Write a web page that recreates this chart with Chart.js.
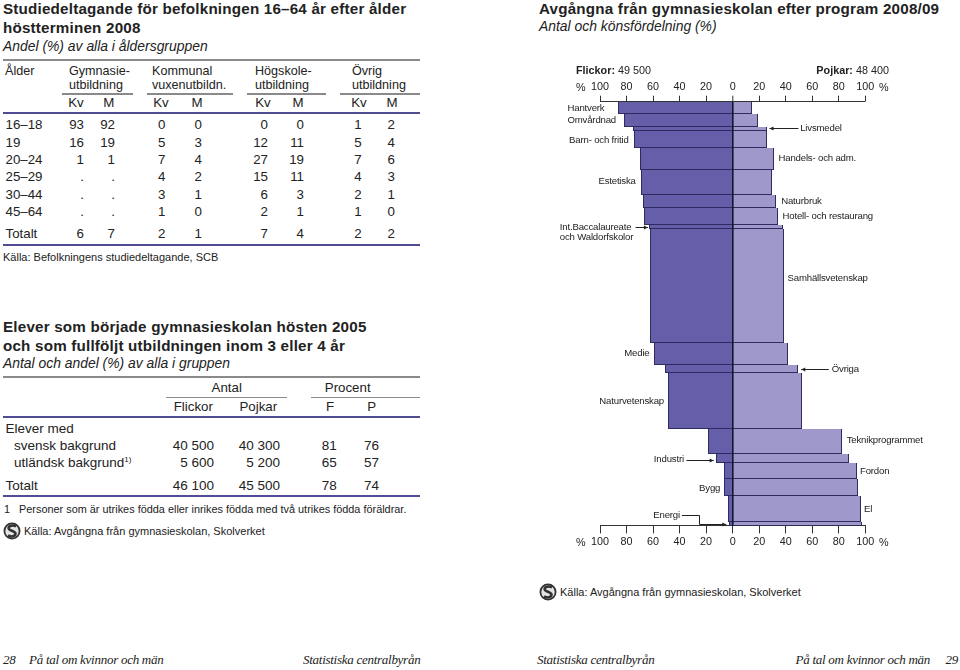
<!DOCTYPE html>
<html lang="sv"><head><meta charset="utf-8"><title>På tal om kvinnor och män</title>
<script src="https://cdn.jsdelivr.net/npm/chart.js@4"></script>
<style>
html,body{margin:0;padding:0;background:#fff;}
#page{position:relative;width:960px;height:670px;overflow:hidden;font-family:"Liberation Sans",Arial,sans-serif;color:#222;}
#page span{position:absolute;white-space:nowrap;line-height:1;}
.rule{position:absolute;height:2px;}
.gray{background:#8a8a8a;} .blue{background:#514c96;} .thin{height:1.5px;}
canvas{position:absolute;left:540px;top:55px;}
sup{font-size:8px;line-height:0;vertical-align:5px;}
</style></head><body><div id="page"><canvas id="pyramid" width="420" height="510"></canvas></div>
<script>
// ---- Pyramid: Avgångna från gymnasieskolan efter program 2008/09 ----
const programs = ["Hantverk","Omvårdnad","Livsmedel","Barn- och fritid","Handels- och adm.","Estetiska","Naturbruk","Hotell- och restaurang","Int.Baccalaureate och Waldorfskolor","Samhällsvetenskap","Medie","Övriga","Naturvetenskap","Teknikprogrammet","Industri","Fordon","Bygg","El","Energi"];
const programShare = [3.0,2.9,1.1,4.0,5.0,5.9,3.1,4.0,1.0,27.0,5.0,2.1,13.0,6.0,2.0,4.0,3.9,6.1,0.9];
const girlsPct = [86.5,82,75,74.7,70,69.4,67.7,67,63,62,59.4,51,48.4,18.5,12.5,6.8,6.3,3.8,3];
const boysPct = [14.3,18.8,26,26,31,30,33,34,38.3,39,41.4,49.6,52.4,82.2,88,93.5,94.2,96.7,97.5];

// ---- Table 1: Studiedeltagande ----
const ageGroups = ["16–18","19","20–24","25–29","30–44","45–64"];
const gymnKv = ["93","16","1",".",".","."], gymnM = ["92","19","1",".",".","."];
const komvuxKv = ["0","5","7","4","3","1"], komvuxM = ["0","3","4","2","1","0"];
const hogskolaKv = ["0","12","27","15","6","2"], hogskolaM = ["0","11","19","11","3","1"];
const ovrigKv = ["1","5","7","4","2","1"], ovrigM = ["2","4","6","3","1","0"];
const studyTotal = ["6","7","2","1","7","4","2","2"];

// ---- Table 2: Elever som fullföljt ----
const bgRows = ["svensk bakgrund","utländsk bakgrund","Totalt"];
const antalFlickor = ["40 500","5 600","46 100"], antalPojkar = ["40 300","5 200","45 500"];
const procentF = ["81","65","78"], procentP = ["76","57","74"];

// ---- Layout helpers ----
const page = document.getElementById("page");
function T(text, x, y, o = {}) {
  const s = document.createElement("span");
  if (o.html) s.innerHTML = text; else s.textContent = text;
  const tx = o.align === "right" ? "-100%" : o.align === "center" ? "-50%" : "0";
  s.style.left = x + "px"; s.style.top = y + "px";
  s.style.transform = `translate(${tx},-50%)`;
  s.style.fontSize = (o.size || 13.3) + "px";
  if (o.bold) s.style.fontWeight = "bold";
  if (o.italic) s.style.fontStyle = "italic";
  if (o.spacing) s.style.letterSpacing = o.spacing + "px";
  if (o.serif) { s.style.fontFamily = '"Liberation Serif",serif'; }
  if (o.color) s.style.color = o.color;
  page.appendChild(s); return s;
}
function R(x1, x2, y, cls) {
  const d = document.createElement("div"); d.className = "rule " + cls;
  d.style.left = x1 + "px"; d.style.width = (x2 - x1) + "px"; d.style.top = (y - 1) + "px";
  page.appendChild(d);
}
function logo(x, y) {
  const n = document.createElementNS("http://www.w3.org/2000/svg", "svg");
  n.setAttribute("width", 18); n.setAttribute("height", 18); n.setAttribute("viewBox", "0 0 18 18");
  n.style.cssText = `position:absolute;left:${x}px;top:${y - 9}px`;
  n.innerHTML = '<circle cx="9" cy="9" r="7.6" fill="#e4e4e4" stroke="#333" stroke-width="1.8"/><path d="M13 4.5C10.5 2.8 5.5 3.4 5.6 6.2C5.7 9 12.6 8.6 12.5 11.8C12.4 14.6 7.5 15.2 5 13.4" fill="none" stroke="#333" stroke-width="2.6"/>';
  page.appendChild(n);
}

// ---- Left page, table 1 ----
const H1 = {size:15.2, bold:true, spacing:0.2};
const HEAD = {size:12.6};
const SUB = {size:13.9, italic:true};
const SRC = {size:11};
T("Studiedeltagande för befolkningen 16–64 år efter ålder", 3, 9, H1);
T("höstterminen 2008", 3, 28, H1);
T("Andel (%) av alla i åldersgruppen", 3, 46.7, SUB);
R(3, 420, 59.5, "gray");
T("Ålder", 5, 70.7, HEAD);
T("Gymnasie-", 69, 71, HEAD); T("utbildning", 69, 84.5, HEAD);
T("Kommunal", 152, 71, HEAD); T("vuxenutbildn.", 152, 84.5, HEAD);
T("Högskole-", 255, 71, HEAD); T("utbildning", 255, 84.5, HEAD);
T("Övrig", 352, 71, HEAD); T("utbildning", 352, 84.5, HEAD);
[[62,132.7],[146.7,233.3],[246.7,326],[340,420]].forEach(a => R(a[0], a[1], 94, "gray thin"));
const kvmX = [76,108.7,161,197,263,298,359,392];
kvmX.forEach((x, i) => T(i % 2 ? "M" : "Kv", x, 103.3, {align:"center"}));
R(3, 420, 113.3, "blue");
const rowY = [125.3,142.7,160,177.3,194.7,212];
const colRight = [84,115,165.3,202,268,304,361.7,395];
const studyCols = [gymnKv,gymnM,komvuxKv,komvuxM,hogskolaKv,hogskolaM,ovrigKv,ovrigM];
ageGroups.forEach((a, r) => {
  T(a, 5.5, rowY[r]);
  studyCols.forEach((c, k) => T(c[r], colRight[k], rowY[r], {align:"right"}));
});
T("Totalt", 5.5, 234);
studyTotal.forEach((v, k) => T(v, colRight[k], 234, {align:"right"}));
R(3, 420, 244.7, "blue");
T("Källa: Befolkningens studiedeltagande, SCB", 3, 257, SRC);

// ---- Left page, table 2 ----
const TB2 = {size:13.5};
T("Elever som började gymnasieskolan hösten 2005", 3, 326.7, H1);
T("och som fullföljt utbildningen inom 3 eller 4 år", 3, 346, H1);
T("Antal och andel (%) av alla i gruppen", 3, 364.3, SUB);
R(3, 420, 377.3, "gray");
T("Antal", 226.7, 388.3, {align:"center"});
T("Procent", 347.7, 388.3, {align:"center"});
R(165.7, 287.3, 397.7, "gray thin"); R(311, 420, 397.7, "gray thin");
T("Flickor", 193.3, 406.7, {align:"center"}); T("Pojkar", 258.3, 406.7, {align:"center"});
T("F", 330, 406.7, {align:"center"}); T("P", 371.7, 406.7, {align:"center"});
R(3, 420, 416.7, "blue");
T("Elever med", 5.5, 429, TB2);
const bgY = [446,463.3,485.7], bgX = [14,14,5.5];
bgRows.forEach((b, i) => {
  T(i === 1 ? b + "<sup>1)</sup>" : b, bgX[i], bgY[i], {html:true, ...TB2});
  T(antalFlickor[i], 214, bgY[i], {align:"right", ...TB2});
  T(antalPojkar[i], 280, bgY[i], {align:"right", ...TB2});
  T(procentF[i], 336.7, bgY[i], {align:"right", ...TB2});
  T(procentP[i], 379, bgY[i], {align:"right", ...TB2});
});
R(3, 420, 496, "blue");
T("1", 4, 509, {size:10.9});
T("Personer som är utrikes födda eller inrikes födda med två utrikes födda föräldrar.", 19, 509, {size:10.9});
logo(3, 531.3);
T("Källa: Avgångna från gymnasieskolan, Skolverket", 24, 531.3, SRC);

// ---- Right page headings ----
T("Avgångna från gymnasieskolan efter program 2008/09", 539, 8.5, {size:15.2, bold:true, spacing:0.2});
T("Antal och könsfördelning (%)", 539, 27, SUB);
const CH = {size:10.8};
T("<b>Flickor:</b> 49 500", 576, 70, {html:true, ...CH});
T("<b>Pojkar:</b> 48 400", 889, 70, {html:true, ...CH, align:"right"});
T("%", 576, 87, CH); T("%", 879, 87, CH);
T("%", 576, 542.3, CH); T("%", 879, 542.3, CH);
logo(539, 592);
T("Källa: Avgångna från gymnasieskolan, Skolverket", 560, 592, SRC);

// ---- Running footers ----
const F = {size:13, italic:true, serif:true, spacing:-0.27};
T("28", 3, 659, F); T("På tal om kvinnor och män", 29, 659, F);
T("Statistiska centralbyrån", 303, 659, F); T("Statistiska centralbyrån", 537, 659, F);
T("På tal om kvinnor och män", 930, 659, {...F, align:"right"}); T("29", 958, 659, {...F, align:"right"});

// ---- Chart ----
// Bars are as tall as each programme's share of all graduates: band edges come from the y scale.
Chart.BarController.prototype._calculateBarIndexPixels = function (index) {
  const d = this.getDataset().data[index], s = this._cachedMeta.iScale;
  const a = Math.round(s.getPixelForValue(d.from)), b = Math.round(s.getPixelForValue(d.to));
  return {base: a, head: b, center: (a + b) / 2, size: b - a};
};
const valuePixels = Chart.BarController.prototype._calculateBarValuePixels;
Chart.BarController.prototype._calculateBarValuePixels = function (index) {
  const r = valuePixels.call(this, index);
  const base = Math.round(r.base), head = Math.round(r.head);
  return {...r, base, head, size: head - base, center: (base + head) / 2};
};
const bandStart = [];
programShare.reduce((sum, v, i) => { bandStart[i] = sum; return sum + v; }, 0);
const toPoints = (vals, sign) => vals.map((v, i) => ({x: sign * v, y: bandStart[i] + programShare[i] / 2, from: bandStart[i], to: bandStart[i] + programShare[i]}));

// Label placement: text x in axis percent, dy in px from the band middle
const callouts = [
  {i:0, t:"Hantverk", x:-124.5, dy:0}, {i:1, t:"Omvårdnad", x:-124.5, dy:0},
  {i:2, t:"Livsmedel", x:50.9, dy:-1, arrow:[49.6,27.8]},
  {i:3, t:"Barn- och fritid", x:-123.3, dy:0.5},
  {i:4, t:"Handels- och adm.", x:34.6, dy:-0.7}, {i:5, t:"Estetiska", x:-101.2, dy:-0.7},
  {i:6, t:"Naturbruk", x:36.6, dy:0.5}, {i:7, t:"Hotell- och restaurang", x:37.6, dy:0.2},
  {i:8, t:"Int.Baccalaureate", x:-130.3, dy:0.3, arrow:[-73.2,-63.9]},
  {i:8, t:"och Waldorfskolor", x:-130.3, dy:10.6},
  {i:9, t:"Samhällsvetenskap", x:41.4, dy:-8},
  {i:10, t:"Medie", x:-81.7, dy:-0.3}, {i:11, t:"Övriga", x:74.7, dy:0, arrow:[72.5,51.7]},
  {i:12, t:"Naturvetenskap", x:-100.5, dy:0.3}, {i:13, t:"Teknikprogrammet", x:86, dy:-1.3},
  {i:14, t:"Industri", x:-59.4, dy:1.3, arrow:[-34.8,-14.3]},
  {i:15, t:"Fordon", x:96, dy:0.3}, {i:16, t:"Bygg", x:-25.3, dy:1}, {i:17, t:"El", x:99, dy:0.7},
  {i:18, t:"Energi", x:-59.8, dy:-8.4, elbow:[-38.2,-25,-4.8]}
];
const LABEL_FONT = '9.6px "Liberation Sans", Arial, sans-serif';
function arrowHead(c, x, y, dir) {
  c.beginPath(); c.moveTo(x, y); c.lineTo(x - dir * 4, y - 2); c.lineTo(x - dir * 4, y + 2); c.closePath(); c.fill();
}
const calloutPlugin = {
  id: "callouts",
  afterDraw(chart) {
    const c = chart.ctx, X = chart.scales.xTop, Y = chart.scales.y;
    c.save(); c.font = LABEL_FONT; c.letterSpacing = "-0.18px"; c.fillStyle = "#222"; c.strokeStyle = "#222"; c.lineWidth = 1;
    c.textBaseline = "middle"; c.textAlign = "left";
    callouts.forEach(l => {
      const ym = Y.getPixelForValue(bandStart[l.i] + programShare[l.i] / 2), y = ym + l.dy;
      c.fillText(l.t, X.getPixelForValue(l.x), y);
      if (l.arrow) {
        const a = X.getPixelForValue(l.arrow[0]), b = X.getPixelForValue(l.arrow[1]);
        c.beginPath(); c.moveTo(a, Math.round(y) + .5); c.lineTo(b, Math.round(y) + .5); c.stroke();
        arrowHead(c, b, Math.round(y) + .5, Math.sign(b - a));
      }
      if (l.elbow) {
        const a = X.getPixelForValue(l.elbow[0]), m = X.getPixelForValue(l.elbow[1]), b = X.getPixelForValue(l.elbow[2]);
        const y1 = Math.round(y) + .5, y2 = Math.round(ym) + .5;
        c.beginPath(); c.moveTo(a, y1); c.lineTo(m, y1); c.lineTo(m, y2); c.lineTo(b, y2); c.stroke();
        arrowHead(c, b, y2, 1);
      }
    });
    c.restore();
  }
};
const tickFont = {family: '"Liberation Sans", Arial, sans-serif', size: 10.8};
new Chart(document.getElementById("pyramid"), {
  type: "bar",
  data: {
    labels: programs,
    datasets: [
      {label:"Flickor", data: toPoints(girlsPct, -1), xAxisID:"xTop", yAxisID:"y", backgroundColor:"#655fa9", borderColor:"#2e2b60", borderWidth:{top:0, right:0, bottom:1, left:1}, borderSkipped:false},
      {label:"Pojkar", data: toPoints(boysPct, 1), xAxisID:"xTop", yAxisID:"y", backgroundColor:"#9e99ca", borderColor:"#2e2b60", borderWidth:{top:0, right:1, bottom:1, left:0}, borderSkipped:false}
    ]
  },
  options: {
    indexAxis: "y", responsive: false, animation: false,
    layout: {padding: {left:60, right:94.7, top:6.7, bottom:9.3}},
    plugins: {legend:{display:false}, title:{display:false}, tooltip:{enabled:false}},
    scales: {
      y: {type:"linear", offset:false, min:0, max:100, reverse:true, display:false},
      xTop: {
        type:"linear", axis:"x", position:"top", min:-100, max:100,
        afterFit(s){ s.height = 40; },
        border:{color:"#333", width:1, z:1},
        grid:{z:1, tickLength:6, tickColor:"#333", tickWidth:1, color:c => c.tick && c.tick.value === 0 ? "#15152e" : "transparent", lineWidth:c => c.tick && c.tick.value === 0 ? 1.6 : 0.01},
        ticks:{stepSize:20, autoSkip:false, maxRotation:0, padding:2.4, color:"#222", font:tickFont, callback:v => Math.abs(v)}
      },
      xBottom: {
        type:"linear", axis:"x", position:"bottom", min:-100, max:100,
        afterFit(s){ s.height = 30; },
        border:{color:"#333", width:1},
        grid:{drawOnChartArea:false, tickLength:7.7, tickColor:"#333", tickWidth:1},
        ticks:{stepSize:20, autoSkip:false, maxRotation:0, padding:2.6, color:"#222", font:tickFont, callback:v => Math.abs(v)}
      }
    }
  },
  plugins: [calloutPlugin]
});
</script></body></html>
